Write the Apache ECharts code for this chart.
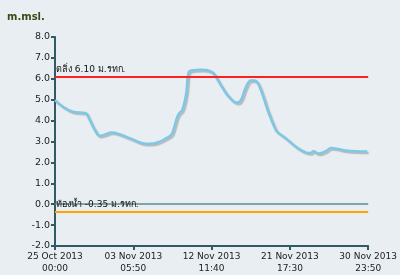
<!DOCTYPE html>
<html><head><meta charset="utf-8">
<script src="https://cdn.jsdelivr.net/npm/echarts@6/dist/echarts.min.js"></script>
<style>html,body{margin:0;padding:0;background:#e8eef1;}#c{width:400px;height:275px;}</style>
</head><body><div id="c"></div>
<script>
// days since 25 Oct 2013 00:00
const days = [0,0.82,2.11,3.64,3.99,4.70,5.29,5.87,6.69,7.63,8.81,10.33,11.16,12.10,13.15,13.74,14.09,14.44,14.68,15.03,15.5,15.74,16.09,17.38,18.56,19.14,19.73,20.55,21.49,21.96,22.55,23.14,23.61,24.08,24.66,25.25,26.07,26.42,27.25,28.42,29.6,30.18,30.53,31.12,31.94,32.65,33.47,34.29,35.47,36.88];
const levels = [4.98,4.7,4.42,4.35,4.12,3.55,3.27,3.33,3.43,3.35,3.16,2.92,2.89,2.95,3.16,3.32,3.7,4.18,4.35,4.5,5.3,6.24,6.4,6.43,6.32,6.0,5.6,5.13,4.85,4.98,5.6,5.92,5.92,5.69,5.06,4.35,3.55,3.4,3.16,2.76,2.48,2.45,2.53,2.42,2.53,2.69,2.64,2.57,2.53,2.52];
const xTickLabels = ['25 Oct 2013\n00:00','03 Nov 2013\n05:50','12 Nov 2013\n11:40','21 Nov 2013\n17:30','30 Nov 2013\n23:50'];
const bankLevel = 6.10, bankLabel = 'ตลิ่ง 6.10 ม.รทก.';
const bedLevel = -0.35, bedLabel = 'ท้องน้ำ -0.35 ม.รทก.';
const xMax = 36.993;
const xInt = xMax / 4;

const chart = echarts.init(document.getElementById('c'));
const font = 'DejaVu Sans, Verdana, sans-serif';
chart.setOption({
  backgroundColor: '#e8eef1',
  animation: false,
  title: {text: 'm.msl.', left: 7, top: 12, padding: 0, textStyle: {fontSize: 10, fontWeight: 'bold', color: '#3b4a1a', fontFamily: font}},
  grid: {left: 55, right: 30, top: 37, bottom: 27},
  xAxis: {
    type: 'value', min: 0, max: xMax, interval: xInt,
    axisLine: {onZero: false, lineStyle: {color: '#2f5a66', width: 2}},
    axisTick: {show: true, length: 4, lineStyle: {color: '#2f5a66', width: 2}},
    splitLine: {show: false},
    axisLabel: {fontSize: 9, color: '#222', fontFamily: font, lineHeight: 12, margin: 5,
      formatter: v => xTickLabels[Math.round(v / xInt)] || ''}
  },
  yAxis: {
    type: 'value', min: -2, max: 8, interval: 1,
    axisLine: {show: true, lineStyle: {color: '#2f5a66', width: 2}},
    axisTick: {show: true, length: 4, lineStyle: {color: '#2f5a66', width: 2}},
    splitLine: {show: false},
    axisLabel: {fontSize: 9.5, color: '#222', fontFamily: font, margin: 5, formatter: v => v.toFixed(1)}
  },
  series: [{
    type: 'line',
    data: days.map((d, i) => [d, levels[i]]),
    smooth: 0.4,
    showSymbol: false,
    lineStyle: {color: '#7ec8e6', width: 2.5, shadowColor: 'rgba(90,90,90,0.35)', shadowBlur: 1, shadowOffsetX: 1.5, shadowOffsetY: 1.5},
    markLine: {
      silent: true, symbol: 'none',
      data: [
        {yAxis: bankLevel, lineStyle: {color: '#ff2020', width: 2, type: 'solid'},
         label: {show: true, formatter: bankLabel, position: 'insideStartTop', distance: [1, 3], color: '#111', fontSize: 9, fontFamily: font}},
        {yAxis: 0, lineStyle: {color: '#5f8a92', width: 1.5, type: 'solid'}, label: {show: false}},
        {yAxis: bedLevel, lineStyle: {color: '#ffa500', width: 2, type: 'solid'},
         label: {show: true, formatter: bedLabel, position: 'insideStartTop', distance: [1, 2], color: '#111', fontSize: 9, fontFamily: font}}
      ]
    }
  }]
});
</script></body></html>
